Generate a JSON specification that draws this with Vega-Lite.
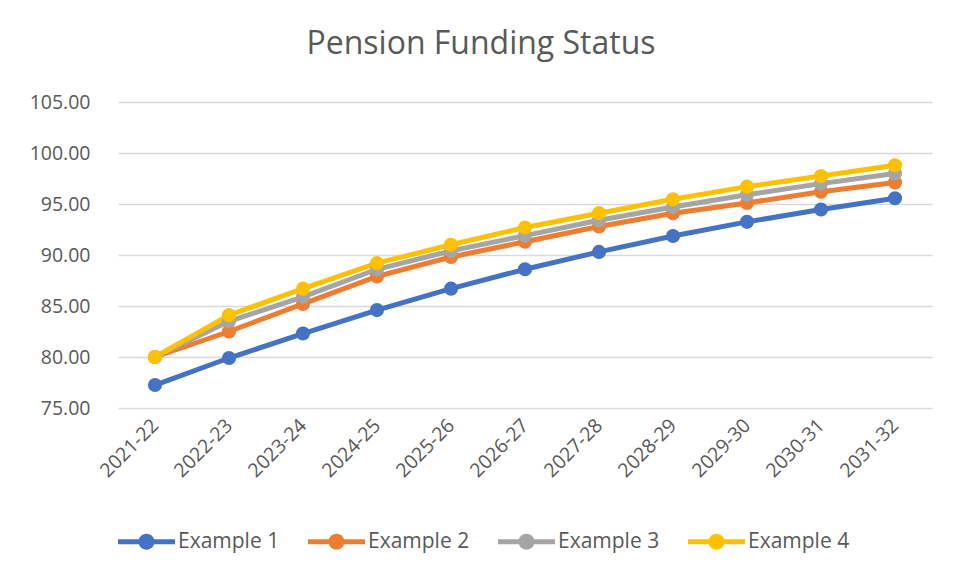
{
  "$schema": "https://vega.github.io/schema/vega-lite/v6.json",
  "width": 814,
  "height": 306,
  "autosize": {"type": "none"},
  "padding": {"left": 118, "top": 102, "right": 29, "bottom": 168},
  "background": "white",
  "title": {
    "text": "Pension Funding Status",
    "font": "Open Sans",
    "fontSize": 32,
    "fontWeight": "normal",
    "color": "#595959",
    "anchor": "middle",
    "dx": -44,
    "offset": 31
  },
  "data": {
    "values": [
      {"year": "2021-22", "series": "Example 1", "value": 77.25},
      {"year": "2022-23", "series": "Example 1", "value": 79.9},
      {"year": "2023-24", "series": "Example 1", "value": 82.3},
      {"year": "2024-25", "series": "Example 1", "value": 84.6},
      {"year": "2025-26", "series": "Example 1", "value": 86.7},
      {"year": "2026-27", "series": "Example 1", "value": 88.6},
      {"year": "2027-28", "series": "Example 1", "value": 90.3},
      {"year": "2028-29", "series": "Example 1", "value": 91.86},
      {"year": "2029-30", "series": "Example 1", "value": 93.25},
      {"year": "2030-31", "series": "Example 1", "value": 94.46},
      {"year": "2031-32", "series": "Example 1", "value": 95.56},
      {"year": "2021-22", "series": "Example 2", "value": 80.0},
      {"year": "2022-23", "series": "Example 2", "value": 82.5},
      {"year": "2023-24", "series": "Example 2", "value": 85.2},
      {"year": "2024-25", "series": "Example 2", "value": 87.9},
      {"year": "2025-26", "series": "Example 2", "value": 89.8},
      {"year": "2026-27", "series": "Example 2", "value": 91.3},
      {"year": "2027-28", "series": "Example 2", "value": 92.8},
      {"year": "2028-29", "series": "Example 2", "value": 94.1},
      {"year": "2029-30", "series": "Example 2", "value": 95.1},
      {"year": "2030-31", "series": "Example 2", "value": 96.2},
      {"year": "2031-32", "series": "Example 2", "value": 97.1},
      {"year": "2021-22", "series": "Example 3", "value": 80.0},
      {"year": "2022-23", "series": "Example 3", "value": 83.5},
      {"year": "2023-24", "series": "Example 3", "value": 85.9},
      {"year": "2024-25", "series": "Example 3", "value": 88.6},
      {"year": "2025-26", "series": "Example 3", "value": 90.4},
      {"year": "2026-27", "series": "Example 3", "value": 91.9},
      {"year": "2027-28", "series": "Example 3", "value": 93.4},
      {"year": "2028-29", "series": "Example 3", "value": 94.7},
      {"year": "2029-30", "series": "Example 3", "value": 95.9},
      {"year": "2030-31", "series": "Example 3", "value": 97.0},
      {"year": "2031-32", "series": "Example 3", "value": 98.0},
      {"year": "2021-22", "series": "Example 4", "value": 80.0},
      {"year": "2022-23", "series": "Example 4", "value": 84.1},
      {"year": "2023-24", "series": "Example 4", "value": 86.7},
      {"year": "2024-25", "series": "Example 4", "value": 89.2},
      {"year": "2025-26", "series": "Example 4", "value": 91.0},
      {"year": "2026-27", "series": "Example 4", "value": 92.7},
      {"year": "2027-28", "series": "Example 4", "value": 94.1},
      {"year": "2028-29", "series": "Example 4", "value": 95.46},
      {"year": "2029-30", "series": "Example 4", "value": 96.7},
      {"year": "2030-31", "series": "Example 4", "value": 97.75},
      {"year": "2031-32", "series": "Example 4", "value": 98.8}
    ]
  },
  "encoding": {
    "x": {
      "field": "year",
      "type": "ordinal",
      "title": null,
      "scale": {"type": "point", "padding": 0.5},
      "axis": {
        "labelAngle": -45,
        "labelAlign": "right",
        "labelBaseline": "middle",
        "labelFont": "Open Sans",
        "labelFontSize": 19.5,
        "labelColor": "#595959",
        "labelPadding": 14,
        "ticks": false,
        "domain": false,
        "grid": false
      }
    },
    "y": {
      "field": "value",
      "type": "quantitative",
      "title": null,
      "scale": {"domain": [75, 105], "nice": false, "zero": false},
      "axis": {
        "values": [75, 80, 85, 90, 95, 100, 105],
        "format": ".2f",
        "labelFont": "Open Sans",
        "labelFontSize": 19.5,
        "labelColor": "#595959",
        "labelPadding": 28,
        "ticks": false,
        "domain": false,
        "grid": true,
        "gridColor": "#d9d9d9",
        "gridWidth": 1.3
      }
    },
    "color": {
      "field": "series",
      "type": "nominal",
      "title": null,
      "scale": {
        "domain": ["Example 1", "Example 2", "Example 3", "Example 4"],
        "range": ["#4472C4", "#ED7D31", "#A5A5A5", "#FFC000"]
      },
      "legend": {
        "orient": "none",
        "legendX": 0,
        "legendY": 411,
        "direction": "horizontal",
        "symbolType": "M-1,-0.09 H1 V0.09 H-1 Z M-0.28,0 A0.28,0.28 0 1,1 0.28,0 A0.28,0.28 0 1,1 -0.28,0 Z",
        "symbolSize": 3249,
        "symbolStrokeWidth": 0,
        "labelFont": "Open Sans",
        "labelFontSize": 21,
        "labelColor": "#595959",
        "labelOffset": 3,
        "columnPadding": 28,
        "encode": {
          "symbols": {
            "update": {
              "fill": {"scale": "color", "field": "value"},
              "stroke": {"value": "transparent"}
            }
          }
        }
      }
    },
    "order": {"field": "series"}
  },
  "layer": [
    {"mark": {"type": "line", "strokeWidth": 5}},
    {"mark": {"type": "point", "filled": true, "size": 200, "opacity": 1}}
  ],
  "config": {"view": {"stroke": null}}
}
